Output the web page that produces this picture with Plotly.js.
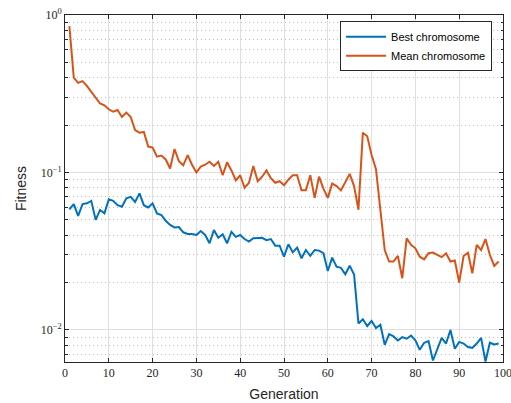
<!DOCTYPE html>
<html>
<head>
<meta charset="utf-8">
<script src="https://cdn.plot.ly/plotly-3.0.1.min.js"></script>
<style>html,body{margin:0;padding:0;background:#fff;}#chart{width:511px;height:403px;}</style>
</head>
<body>
<div id="chart"></div>
<script>
var generations = [1,2,3,4,5,6,7,8,9,10,11,12,13,14,15,16,17,18,19,20,21,22,23,24,25,26,27,28,29,30,31,32,33,34,35,36,37,38,39,40,41,42,43,44,45,46,47,48,49,50,51,52,53,54,55,56,57,58,59,60,61,62,63,64,65,66,67,68,69,70,71,72,73,74,75,76,77,78,79,80,81,82,83,84,85,86,87,88,89,90,91,92,93,94,95,96,97,98,99];

var bestFitness = [0.0583,0.063,0.053,0.063,0.0637,0.066,0.050,0.0578,0.055,0.0675,
0.066,0.062,0.0606,0.0685,0.070,0.065,0.0737,0.062,0.060,0.0637,
0.055,0.0537,0.0494,0.0464,0.0448,0.0450,0.0417,0.0407,0.0407,0.0401,
0.0425,0.0401,0.0355,0.0431,0.0385,0.0405,0.0355,0.042,0.039,0.0401,
0.0378,0.0364,0.0382,0.0382,0.0385,0.0372,0.0378,0.0343,0.0343,0.0292,
0.035,0.0311,0.0333,0.0285,0.0322,0.0296,0.0322,0.0319,0.0307,0.0237,
0.0288,0.0252,0.0248,0.0226,0.0256,0.0225,0.0110,0.0117,0.0106,0.0114,
0.0103,0.0108,0.00805,0.0094,0.0091,0.00857,0.0090,0.0088,0.0092,0.0086,
0.00748,0.0083,0.0085,0.0064,0.0075,0.0089,0.0082,0.0100,0.0076,0.0084,
0.0082,0.0078,0.0077,0.0082,0.0089,0.0063,0.0083,0.0081,0.0082];

var meanFitness = [0.85,0.40,0.371,0.38,0.355,0.325,0.302,0.274,0.267,0.252,
0.243,0.249,0.225,0.240,0.225,0.186,0.179,0.181,0.146,0.144,
0.126,0.128,0.121,0.106,0.141,0.118,0.111,0.129,0.112,0.100,
0.109,0.112,0.117,0.110,0.117,0.096,0.116,0.103,0.089,0.096,
0.080,0.086,0.110,0.088,0.094,0.103,0.092,0.086,0.088,0.083,
0.090,0.096,0.096,0.077,0.077,0.096,0.069,0.094,0.079,0.069,
0.085,0.082,0.077,0.086,0.098,0.082,0.058,0.179,0.170,0.129,
0.105,0.058,0.0322,0.0272,0.0272,0.0295,0.0213,0.0382,0.0347,0.033,
0.0292,0.0281,0.0307,0.031,0.030,0.029,0.0307,0.0272,0.0276,0.020,
0.0295,0.0309,0.0229,0.0347,0.0322,0.0378,0.030,0.0255,0.0272];

var seriesNames = ['Best chromosome', 'Mean chromosome'];
var xTickVals = [0,10,20,30,40,50,60,70,80,90,100];
var yTickVals = [0.01, 0.1, 1];
var yTickText = ['10<sup>\u22122</sup>', '10<sup>\u22121</sup>', '10<sup>0</sup>'];
var yMinorVals = [0.007,0.008,0.009,0.02,0.03,0.04,0.05,0.06,0.07,0.08,0.09,0.2,0.3,0.4,0.5,0.6,0.7,0.8,0.9];

var traces = [
  {x: generations, y: bestFitness, name: seriesNames[0], type: 'scatter', mode: 'lines',
   line: {color: '#0072BD', width: 2}},
  {x: generations, y: meanFitness, name: seriesNames[1], type: 'scatter', mode: 'lines',
   line: {color: '#D95319', width: 2}}
];

var axisColor = '#262626';
var layout = {
  width: 511, height: 403,
  margin: {l: 65, r: 8, t: 15, b: 41, pad: 0},
  paper_bgcolor: '#ffffff', plot_bgcolor: '#ffffff',
  showlegend: true,
  legend: {x: 0.975, y: 0.982, xanchor: 'right', yanchor: 'top',
    bordercolor: axisColor, borderwidth: 1, bgcolor: '#ffffff',
    font: {family: 'Liberation Sans, Arial, sans-serif', size: 11, color: '#000'},
    tracegroupgap: 0, itemwidth: 40},
  xaxis: {
    range: [0, 100], tickmode: 'array', tickvals: xTickVals,
    ticks: 'inside', ticklen: 4, tickwidth: 1, tickcolor: axisColor,
    showline: true, linecolor: axisColor, linewidth: 1, mirror: 'ticks',
    showgrid: true, gridcolor: '#dfdfdf', gridwidth: 1, zeroline: false,
    ticklabeloverflow: 'allow',
    tickfont: {family: 'Liberation Serif, DejaVu Serif, serif', size: 12, color: axisColor},
    title: {text: 'Generation', font: {family: 'Liberation Sans, Arial, sans-serif', size: 14, color: axisColor}, standoff: 9},
    automargin: false
  },
  yaxis: {
    type: 'log', range: [Math.log10(0.00626), 0],
    tickmode: 'array', tickvals: yTickVals, ticktext: yTickText,
    ticks: 'inside', ticklen: 4, tickwidth: 1, tickcolor: axisColor,
    showline: true, linecolor: axisColor, linewidth: 1, mirror: 'ticks',
    showgrid: true, gridcolor: '#dfdfdf', gridwidth: 1, zeroline: false,
    ticklabeloverflow: 'allow',
    tickfont: {family: 'Liberation Serif, DejaVu Serif, serif', size: 12, color: axisColor},
    title: {text: 'Fitness', font: {family: 'Liberation Sans, Arial, sans-serif', size: 14, color: axisColor}, standoff: 10},
    automargin: false,
    minor: {tickmode: 'array', tickvals: yMinorVals, ticks: 'inside', ticklen: 2.5,
      tickcolor: axisColor, showgrid: true, gridcolor: '#bdbdbd', griddash: '1px,3px', gridwidth: 1}
  }
};

Plotly.newPlot('chart', traces, layout, {displayModeBar: false, staticPlot: true});
</script>
</body>
</html>
